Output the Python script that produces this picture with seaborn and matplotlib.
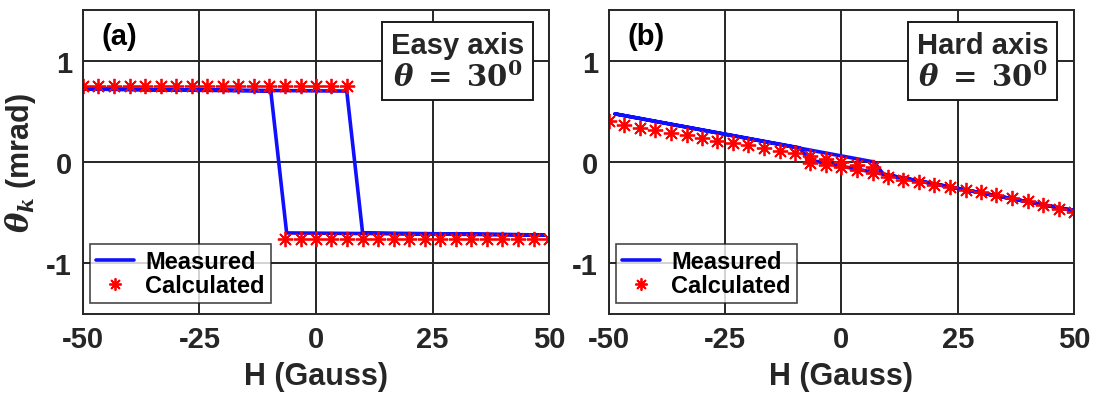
import matplotlib
matplotlib.use("Agg")
import matplotlib.pyplot as plt
import seaborn as sns
import numpy as np

sns.set_theme(style="white")
plt.rcParams['font.family'] = ['Liberation Sans', 'DejaVu Sans']
plt.rcParams['font.weight'] = 'bold'
plt.rcParams['axes.unicode_minus'] = False
plt.rcParams['mathtext.fontset'] = 'custom'
plt.rcParams['mathtext.rm'] = 'DejaVu Serif:bold'
plt.rcParams['mathtext.it'] = 'DejaVu Serif:italic:bold'
plt.rcParams['mathtext.bf'] = 'DejaVu Serif:bold'

# ---- data ----
# (a) Easy axis
easy_meas_H = [-50, 6.6, 10, 49, -6.3, -9.7, -50]
easy_meas_theta = [0.72, 0.70, -0.70, -0.72, -0.70, 0.70, 0.72]
easy_calc_up_H = [-50, -46.7, -43.3, -40, -36.7, -33.3, -30, -26.7, -23.3, -20,
                  -16.7, -13.3, -10, -6.7, -3.3, 0, 3.3, 6.7]
easy_calc_up_theta = [0.75] * 18
easy_calc_dn_H = [-6.7, -3.3, 0, 3.3, 6.7, 10, 13.3, 16.7, 20, 23.3, 26.7, 30,
                  33.3, 36.7, 40, 43.3, 46.7, 50]
easy_calc_dn_theta = [-0.76] * 18

# (b) Hard axis
hard_meas_H = [-48.7, 7, 9, 50, -7, -9, -48.7]
hard_meas_theta = [0.475, 0.0, -0.12, -0.48, 0.02, 0.14, 0.475]
hard_calc_up_H = easy_calc_up_H
hard_calc_up_theta = [0.40, 0.37, 0.34, 0.315, 0.29, 0.265, 0.24, 0.212, 0.19,
                      0.165, 0.138, 0.112, 0.085, 0.055, 0.028, 0.0, -0.025, -0.05]
hard_calc_dn_H = easy_calc_dn_H
hard_calc_dn_theta = [-0.005, -0.025, -0.05, -0.075, -0.105, -0.15, -0.175, -0.2,
                      -0.225, -0.25, -0.275, -0.30, -0.325, -0.355, -0.385, -0.42,
                      -0.46, -0.495]

xticks = [-50, -25, 0, 25, 50]
xtick_labels = ['-50', '-25', '0', '25', '50']
yticks = [-1, 0, 1]
ytick_labels = ['-1', '0', '1']
panel_labels = ['(a)', '(b)']
box_texts = ['Easy axis\n$\\theta\\;=\\;30^0$', 'Hard axis\n$\\theta\\;=\\;30^0$']

TXT = '#262626'
BLUE = '#1010ff'
RED = '#ff0000'
STAR = (8, 2, 0)

fig = plt.figure(figsize=(11.02, 4.10), dpi=100)
axes = [fig.add_axes([0.0753, 0.2317, 0.4229, 0.7415]),
        fig.add_axes([0.5526, 0.2317, 0.4220, 0.7415])]

datasets = [
    (easy_meas_H, easy_meas_theta, easy_calc_up_H, easy_calc_up_theta, easy_calc_dn_H, easy_calc_dn_theta),
    (hard_meas_H, hard_meas_theta, hard_calc_up_H, hard_calc_up_theta, hard_calc_dn_H, hard_calc_dn_theta),
]

for i, (ax, d) in enumerate(zip(axes, datasets)):
    mH, mT, uH, uT, dH, dT = d
    sns.lineplot(x=mH, y=mT, sort=False, estimator=None, color=BLUE, lw=2.6,
                 ax=ax, label='Measured', legend=False)
    sns.lineplot(x=uH, y=uT, sort=False, estimator=None, color=RED, linestyle='',
                 marker=STAR, markersize=11, mew=1.3, mec=RED, ax=ax,
                 label='Calculated', legend=False)
    sns.lineplot(x=dH, y=dT, sort=False, estimator=None, color=RED, linestyle='',
                 marker=STAR, markersize=11, mew=1.3, mec=RED, ax=ax,
                 label='_nolegend_', legend=False)
    ax.set_xlim(-50, 50)
    ax.set_ylim(-1.5, 1.5)
    ax.set_xticks(xticks)
    ax.set_xticklabels(xtick_labels)
    ax.set_yticks(yticks)
    ax.set_yticklabels(ytick_labels)
    ax.grid(True, color='#262626', lw=1.4)
    ax.set_axisbelow(True)
    for s in ax.spines.values():
        s.set_color('#262626')
        s.set_linewidth(1.4)
    ax.tick_params(direction='in', length=5, width=1.2, colors=TXT,
                   labelsize=21, pad=8)
    for lab in ax.get_xticklabels() + ax.get_yticklabels():
        lab.set_fontweight('bold')
    ax.set_xlabel('H (Gauss)', fontsize=22, fontweight='bold', color=TXT, labelpad=6)
    ax.text(0.04, 0.915, panel_labels[i], transform=ax.transAxes, fontsize=21,
            fontweight='bold', color='#000000', ha='left', va='center')
    ax.text(0.803, 0.832, box_texts[i], transform=ax.transAxes, fontsize=21,
            fontweight='bold', color='#262626', ha='center', va='center',
            linespacing=1.1,
            bbox=dict(boxstyle='square,pad=0.3', fc='white', ec='#1a1a1a', lw=1.4))
    leg = ax.legend(loc='lower left', bbox_to_anchor=(0.015, 0.035), fontsize=17,
                    frameon=True, fancybox=False, edgecolor='#1a1a1a',
                    handlelength=1.6, handletextpad=0.5, borderpad=0.25,
                    labelspacing=0.05, markerscale=0.8, borderaxespad=0)
    leg.get_frame().set_linewidth(1.2)
    for t in leg.get_texts():
        t.set_fontweight('bold')
        t.set_color('#000000')

axes[0].set_ylabel('$\\theta_k$ (mrad)', fontsize=22, fontweight='bold', color=TXT, labelpad=6)

fig.savefig('out.png', dpi=100)
